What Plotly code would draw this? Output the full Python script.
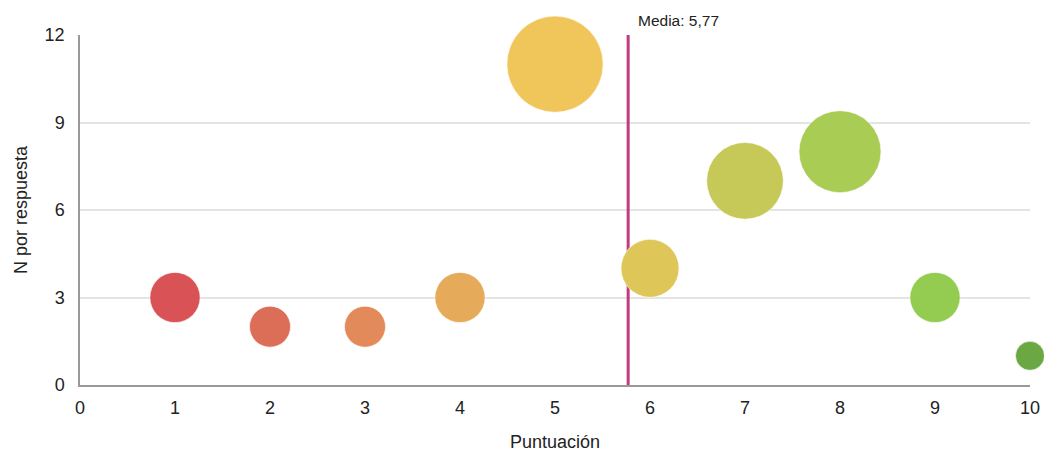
import plotly.graph_objects as go

# Puntuación (1-10) y número de respuestas por puntuación
puntuacion = [1, 2, 3, 4, 5, 6, 7, 8, 9, 10]
n_respuestas = [3, 2, 2, 3, 11, 4, 7, 8, 3, 1]
colores = ["#D95256", "#DC6E58", "#E28A5A", "#E6AA5B", "#F0C55A",
           "#DEC659", "#C6C957", "#A9CC55", "#93CC50", "#6BA843"]
media = 5.77
media_texto = "Media: 5,77"

x_ticks = list(range(0, 11))
y_ticks = [0, 3, 6, 9, 12]

FONT = "Liberation Sans, Arial, sans-serif"

fig = go.Figure()

# Línea vertical de la media (debajo de las burbujas)
fig.add_trace(go.Scatter(
    x=[media, media], y=[0, 12], mode="lines",
    line=dict(color="#C23B80", width=3),
    hoverinfo="skip", showlegend=False,
))

# Burbujas: área proporcional al número de respuestas
fig.add_trace(go.Scatter(
    x=puntuacion, y=n_respuestas, mode="markers",
    marker=dict(
        size=n_respuestas, sizemode="area", sizeref=2 / (29 ** 2),
        color=colores, opacity=1,
        line=dict(color="rgba(255,255,255,0.6)", width=1),
    ),
    cliponaxis=False, showlegend=False,
))

fig.add_annotation(
    x=media, y=12, xref="x", yref="y", text=media_texto,
    showarrow=False, xanchor="left", yanchor="bottom",
    xshift=8, yshift=4,
    font=dict(family=FONT, size=15.5, color="#222222"),
)

fig.update_layout(
    width=1044, height=455,
    margin=dict(l=80, r=14, t=35, b=70),
    paper_bgcolor="white", plot_bgcolor="white",
    font=dict(family=FONT, size=18, color="#222222"),
)
fig.update_xaxes(
    range=[0, 10], tickvals=x_ticks, ticktext=[str(t) for t in x_ticks],
    showgrid=False, zeroline=False, automargin=False,
    showline=True, linecolor="#999999", linewidth=1.5,
    ticks="", ticklabelstandoff=6,
    title=dict(text="Puntuación", font=dict(size=18), standoff=18),
    tickfont=dict(size=18),
)
fig.update_yaxes(
    range=[0, 12], tickvals=y_ticks, ticktext=[str(t) for t in y_ticks],
    showgrid=True, gridcolor="#E4E4E4", gridwidth=1.5, zeroline=False,
    automargin=False,
    showline=True, linecolor="#999999", linewidth=1.5,
    ticks="", ticklabelstandoff=10,
    title=dict(text="N por respuesta", font=dict(size=18), standoff=12),
    tickfont=dict(size=18),
)

fig.write_html("out.html")
